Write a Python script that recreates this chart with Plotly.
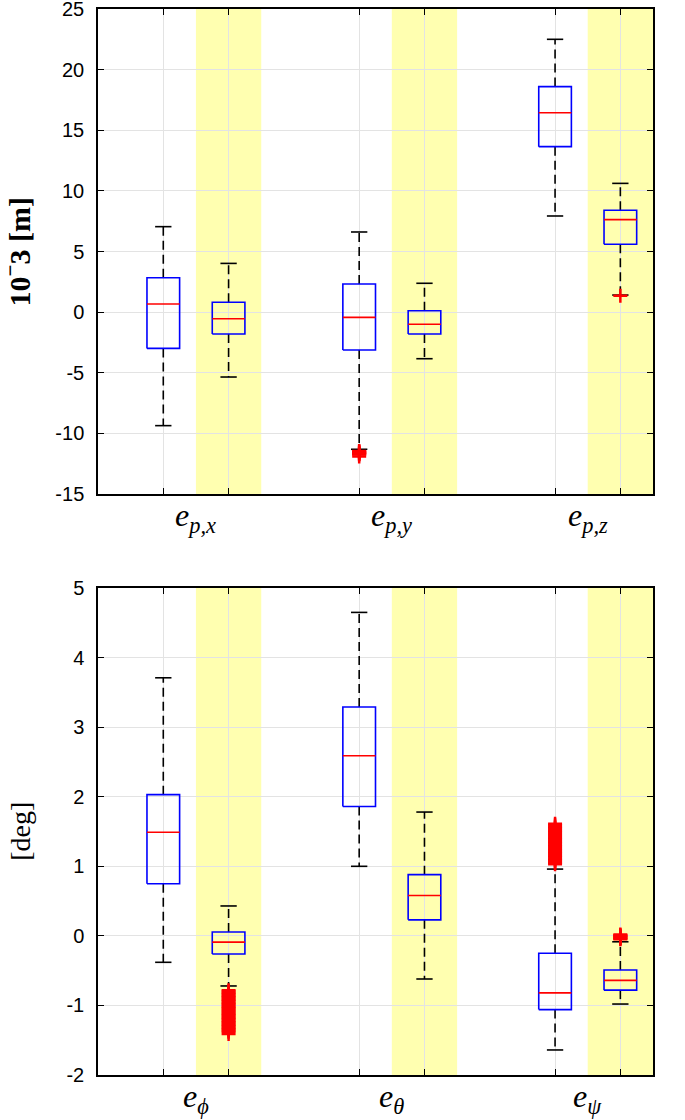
import plotly.graph_objects as go

# ---------------- data ----------------
positions = [1, 2, 4, 5, 7, 8]
group_centers = [1.5, 4.5, 7.5]
labels_top = ["<i>e</i><sub><i>p,x</i></sub>", "<i>e</i><sub><i>p,y</i></sub>", "<i>e</i><sub><i>p,z</i></sub>"]
labels_bot = ["<i>e</i><sub><i>ϕ</i></sub>", "<i>e</i><sub><i>θ</i></sub>", "<i>e</i><sub><i>ψ</i></sub>"]
shade_centers = [2, 5, 8]

# position error [1e-3 m]
pos_upper = [7.05, 4.02, 6.61, 2.38, 22.5, 10.62]
pos_q3 = [2.84, 0.81, 2.32, 0.12, 18.6, 8.40]
pos_median = [0.67, -0.54, -0.43, -1.0, 16.45, 7.63]
pos_q1 = [-2.99, -1.80, -3.12, -1.80, 13.65, 5.60]
pos_lower = [-9.36, -5.35, -11.31, -3.84, 7.93, 1.41]
pos_outliers = [
    [],
    [],
    [-11.45, -11.5, -11.55, -11.6, -11.65, -11.7, -11.75, -11.9],
    [],
    [],
    [1.35],
]

# attitude error [deg]
att_upper = [3.71, 0.43, 4.65, 1.78, 0.96, -0.085]
att_q3 = [2.03, 0.055, 3.29, 0.88, -0.25, -0.49]
att_median = [1.49, -0.09, 2.59, 0.58, -0.82, -0.64]
att_q1 = [0.75, -0.26, 1.86, 0.23, -1.06, -0.78]
att_lower = [-0.38, -0.72, 1.00, -0.62, -1.64, -0.98]
att_outliers = [
    [],
    [-0.78, -0.80, -0.82, -0.84, -0.86, -0.88, -0.90, -0.92, -0.94, -0.96,
     -0.98, -1.00, -1.02, -1.04, -1.06, -1.08, -1.10, -1.12, -1.14, -1.16,
     -1.18, -1.20, -1.22, -1.24, -1.26, -1.28, -1.30, -1.32, -1.34, -1.36,
     -1.38, -1.41],
    [],
    [],
    [1.03, 1.05, 1.07, 1.09, 1.11, 1.13, 1.15, 1.17, 1.19, 1.21, 1.23,
     1.25, 1.27, 1.29, 1.31, 1.33, 1.35, 1.37, 1.39, 1.41, 1.43, 1.45,
     1.47, 1.49, 1.51, 1.53, 1.55, 1.57, 1.59, 1.61],
    [-0.05, -0.04, -0.03, -0.02, -0.01, 0.0, 0.01, 0.02],
]

top_ticks = [-15, -10, -5, 0, 5, 10, 15, 20, 25]
bot_ticks = [-2, -1, 0, 1, 2, 3, 4, 5]

# ---------------- style ----------------
BOX_HW = 0.25
CAP_HW = 0.125
TICK_FONT = dict(family="Liberation Sans, Arial, sans-serif", size=20, color="black")
SERIF = "Liberation Serif, DejaVu Serif, serif"

fig = go.Figure()


def add_boxes(xa, ya, upper, q3, med, q1, lower, outl):
    wx, wy, cx, cy, bx, by, mx, my, ox, oy = [], [], [], [], [], [], [], [], [], []
    for i, p in enumerate(positions):
        wx += [p, p, None, p, p, None]
        wy += [q3[i], upper[i], None, q1[i], lower[i], None]
        cx += [p - CAP_HW, p + CAP_HW, None, p - CAP_HW, p + CAP_HW, None]
        cy += [upper[i], upper[i], None, lower[i], lower[i], None]
        bx += [p - BOX_HW, p + BOX_HW, p + BOX_HW, p - BOX_HW, p - BOX_HW, None]
        by += [q1[i], q1[i], q3[i], q3[i], q1[i], None]
        mx += [p - BOX_HW, p + BOX_HW, None]
        my += [med[i], med[i], None]
        for v in outl[i]:
            ox.append(p)
            oy.append(v)
    common = dict(xaxis=xa, yaxis=ya, showlegend=False, hoverinfo="skip")
    fig.add_trace(go.Scatter(x=wx, y=wy, mode="lines",
                             line=dict(color="black", width=1.6, dash="9px,5px"), **common))
    fig.add_trace(go.Scatter(x=cx, y=cy, mode="lines",
                             line=dict(color="black", width=1.6), **common))
    fig.add_trace(go.Scatter(x=bx, y=by, mode="lines",
                             line=dict(color="#0000ff", width=1.6), **common))
    fig.add_trace(go.Scatter(x=mx, y=my, mode="lines",
                             line=dict(color="#ff0000", width=1.6), **common))
    fig.add_trace(go.Scatter(x=ox, y=oy, mode="markers",
                             marker=dict(symbol="cross-thin", size=10, color="red",
                                         line=dict(color="red", width=2.5)), **common))


add_boxes("x", "y", pos_upper, pos_q3, pos_median, pos_q1, pos_lower, pos_outliers)
add_boxes("x2", "y2", att_upper, att_q3, att_median, att_q1, att_lower, att_outliers)

# yellow shading
for xr, yr in (("x", "y"), ("x2", "y2")):
    for c in shade_centers:
        fig.add_shape(type="rect", xref=xr, yref=yr + " domain", x0=c - 0.5, x1=c + 0.5,
                      y0=0, y1=1, fillcolor="rgb(255,255,176)", line=dict(width=0),
                      layer="below")

axis_common = dict(showline=True, mirror="ticks", linecolor="black", linewidth=1.5,
                   ticks="inside", ticklen=6, tickcolor="black", tickwidth=1,
                   showgrid=True, gridcolor="#e3e3e3", gridwidth=1, zeroline=False,
                   automargin=False)

top_dom = [0.545, 1.0]
bot_dom = [0.0, 0.4568]

fig.update_layout(
    width=685, height=1120,
    margin=dict(l=98, r=32, t=9, b=45),
    plot_bgcolor="white", paper_bgcolor="white",
    xaxis=dict(domain=[0, 1], anchor="y", range=[0, 8.5], tickvals=positions,
               showticklabels=False, **axis_common),
    yaxis=dict(domain=top_dom, anchor="x", range=[-15, 25], tickvals=top_ticks,
               ticktext=[str(v) for v in top_ticks], ticklabeloverflow="allow",
               tickfont=TICK_FONT, ticklabelstandoff=8, **axis_common),
    xaxis2=dict(domain=[0, 1], anchor="y2", range=[0, 8.5], tickvals=positions,
                showticklabels=False, **axis_common),
    yaxis2=dict(domain=bot_dom, anchor="x2", range=[-2, 5], tickvals=bot_ticks,
                ticktext=[str(v) for v in bot_ticks], ticklabeloverflow="allow",
                tickfont=TICK_FONT, ticklabelstandoff=8, **axis_common),
)

LABEL_FONT = dict(family=SERIF, size=32, color="black")
for c, t in zip(group_centers, labels_top):
    fig.add_annotation(x=c, xref="x", y=0, yref="y domain", text=t, showarrow=False,
                       yanchor="top", yshift=-1, font=LABEL_FONT)
for c, t in zip(group_centers, labels_bot):
    fig.add_annotation(x=c, xref="x2", y=0, yref="y2 domain", text=t, showarrow=False,
                       yanchor="top", yshift=-1, font=LABEL_FONT)

# y-axis titles
fig.add_annotation(x=-0.146, xref="paper", xanchor="center", y=0.5, yref="y domain",
                   yanchor="middle",
                   text="<b>10<sup>−</sup>3 [m]</b>", textangle=-90, showarrow=False,
                   font=dict(family=SERIF, size=30, color="black"))
fig.add_annotation(x=-0.14, xref="paper", xanchor="center", y=0.5, yref="y2 domain",
                   yanchor="middle",
                   text="[deg]", textangle=-90, showarrow=False,
                   font=dict(family=SERIF, size=28, color="black"))

fig.write_html("out.html", config={"displayModeBar": False},
               post_script="document.body.style.margin='0';")
